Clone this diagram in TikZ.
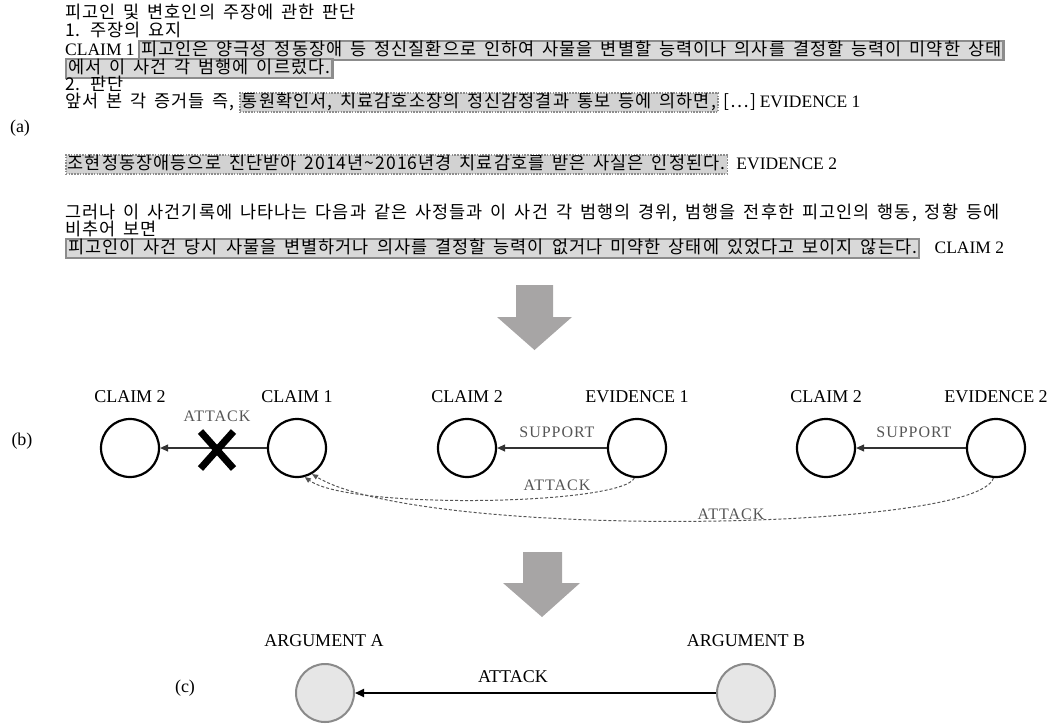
\documentclass[tikz,border=0pt]{standalone}
\usepackage{fontspec}
\setmainfont{Liberation Serif}
\newfontfamily\kr[WordSpace=1.6,LetterSpace=6]{Noto Sans CJK KR}
\newfontfamily\lblfont[LetterSpace=6]{Liberation Serif}
\usetikzlibrary{arrows.meta,shapes.misc}
\definecolor{boxfill}{HTML}{D9D9D9}
\definecolor{boxline}{HTML}{8C8C8C}
\definecolor{evfill}{HTML}{D2D2D2}
\definecolor{arrowgray}{HTML}{A7A5A5}
\definecolor{argfill}{HTML}{E6E6E6}
\definecolor{argline}{HTML}{8A8A8A}
\definecolor{lblgray}{HTML}{555555}
\begin{document}
\begin{tikzpicture}[x=1pt,y=-1pt,
  txt/.style={anchor=base west, inner sep=0pt, font=\kr\fontsize{17.5}{18}\selectfont},
  lat/.style={anchor=base west, inner sep=0pt, font=\fontsize{17.5}{18}\selectfont},
  solidbox/.style={anchor=base west, fill=boxfill, draw=boxline, line width=2.2pt,
    inner xsep=2pt, inner ysep=1pt, text height=13pt, text depth=4pt,
    font=\kr\fontsize{17.5}{18}\selectfont},
  dotbox/.style={solidbox, fill=evfill, draw=boxline, line width=1.6pt,
    dash pattern=on 1.6pt off 1.2pt},
  arg/.style={circle, draw=black, line width=2.2pt, minimum size=58pt, inner sep=0pt},
  captxt/.style={inner sep=0pt, font=\fontsize{18}{18}\selectfont},
  edgelbl/.style={inner sep=0pt, text=lblgray, font=\lblfont\fontsize{16}{18}\selectfont},
  rel/.style={draw=black!80, line width=1.1pt, -{Triangle[length=8pt,width=7pt]}},
  atkcurve/.style={draw=lblgray, line width=1pt, dash pattern=on 3pt off 2pt,
    -{Triangle[length=6pt,width=5pt]}},
  bigarrow/.style={fill=arrowgray},
  final/.style={circle, fill=argfill, draw=argline, line width=2pt, minimum size=58pt, inner sep=0pt}]
\useasboundingbox (0,0) rectangle (1053,724);

% ---------- (a) court text ----------
\node[captxt] (la) at (20,128) {(a)};
\node[txt] (t1) at (65,18) {피고인 및 변호인의 주장에 관한 판단};
\node[txt] (t2) at (65,36) {1. 주장의 요지};
\node[lat] (t3a) at (65,55) {CLAIM 1};
\node[solidbox] (t3b) at ([xshift=3pt]t3a.base east) {피고인은 양극성 정동장애 등 정신질환으로 인하여 사물을 변별할 능력이나 의사를 결정할 능력이 미약한 상태};
\node[solidbox] (t4) at (65,73) {에서 이 사건 각 범행에 이르렀다.};
\node[txt] (t5) at (65,90) {2. 판단};
\node[txt] (t6a) at (65,107) {앞서 본 각 증거들 즉,};
\node[dotbox] (t6b) at ([xshift=4pt]t6a.base east) {통원확인서, 치료감호소장의 정신감정결과 통보 등에 의하면,};
\node[txt] (t6c) at ([xshift=5pt]t6b.base east) {[…]};
\node[lat] (t6d) at ([xshift=3pt]t6c.base east) {EVIDENCE 1};
\node[dotbox] (t7a) at (65,169) {조현정동장애등으로 진단받아 2014년\textasciitilde2016년경 치료감호를 받은 사실은 인정된다.};
\node[lat] (t7b) at ([xshift=8pt]t7a.base east) {EVIDENCE 2};
\node[txt] (t8) at (65,218) {그러나 이 사건기록에 나타나는 다음과 같은 사정들과 이 사건 각 범행의 경위, 범행을 전후한 피고인의 행동, 정황 등에};
\node[txt] (t9) at (65,235) {비추어 보면};
\node[solidbox] (t10a) at (65,253) {피고인이 사건 당시 사물을 변별하거나 의사를 결정할 능력이 없거나 미약한 상태에 있었다고 보이지 않는다.};
\node[lat] (t10b) at ([xshift=14pt]t10a.base east) {CLAIM 2};

% ---------- transition arrows ----------
\fill[bigarrow] (516,285) -- (553,285) -- (553,317) -- (572,317) -- (534.5,350)
  -- (497,317) -- (516,317) -- cycle;
\fill[bigarrow] (523,552) -- (562,552) -- (562,583) -- (580,583) -- (542,617)
  -- (503,583) -- (523,583) -- cycle;

% ---------- (b) argument pairs ----------
\node[captxt] (lb) at (22,441) {(b)};
\node[arg] (l2) at (130,448) {};
\node[arg] (l1) at (297,448) {};
\node[captxt] (l2cap) at (130,397) {CLAIM 2};
\node[captxt] (l1cap) at (297,397) {CLAIM 1};
\draw[rel] (l1) -- (l2);
\node[edgelbl] (latk) at (217,416) {ATTACK};
\node[cross out, draw=black, line width=7pt, minimum width=26pt, minimum height=30pt,
  inner sep=0pt] (xm) at (217,450) {};

\node[arg] (m2) at (467,448) {};
\node[arg] (m1) at (637,448) {};
\node[captxt] (m2cap) at (467,397) {CLAIM 2};
\node[captxt] (m1cap) at (637,397) {EVIDENCE 1};
\draw[rel] (m1) -- (m2);
\node[edgelbl] (msup) at (557,432) {SUPPORT};

\node[arg] (r2) at (826,448) {};
\node[arg] (r1) at (996,448) {};
\node[captxt] (r2cap) at (826,397) {CLAIM 2};
\node[captxt] (r1cap) at (996,397) {EVIDENCE 2};
\draw[rel] (r1) -- (r2);
\node[edgelbl] (rsup) at (914,432) {SUPPORT};

\draw[atkcurve] (m1.-95) .. controls (622,505) and (350,510) .. (l1.-75);
\node[edgelbl] (matk) at (557,485) {ATTACK};
\draw[atkcurve] (r1.-95) .. controls (978,532) and (420,540) .. (l1.-60);
\node[edgelbl] (ratk) at (731,514) {ATTACK};

% ---------- (c) abstract arguments ----------
\node[captxt] (lc) at (185,688) {(c)};
\node[final] (aa) at (325,693) {};
\node[final] (ab) at (746,693) {};
\node[captxt] (aacap) at (324,641) {ARGUMENT A};
\node[captxt] (abcap) at (746,641) {ARGUMENT B};
\draw[line width=2pt, -{Triangle[length=9pt,width=8pt]}] (ab) -- (aa);
\node[captxt] (catk) at (513,677) {ATTACK};
\end{tikzpicture}
\end{document}
